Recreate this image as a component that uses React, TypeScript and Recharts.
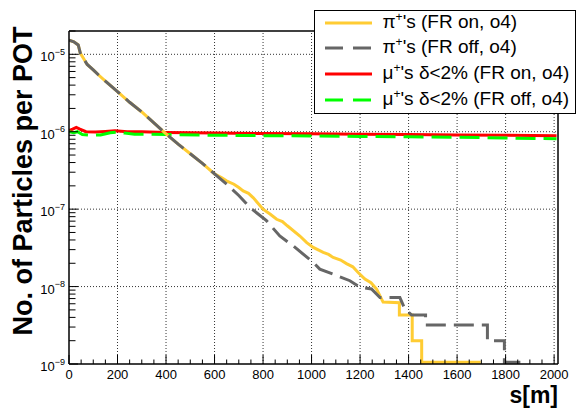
import { LineChart, Line, XAxis, YAxis, ReferenceLine } from "recharts";

const font = '"Liberation Sans", Arial, Helvetica, sans-serif';

// pi+ with field rotation on (yellow)
const piFrOn = [
  { s: 0, v: 1.52e-5 }, { s: 20, v: 1.45e-5 }, { s: 38, v: 1.32e-5 }, { s: 47, v: 1.03e-5 },
  { s: 60, v: 8.8e-6 }, { s: 75, v: 7.4e-6 }, { s: 100, v: 6.3e-6 }, { s: 122, v: 5.4e-6 },
  { s: 150, v: 4.5e-6 }, { s: 200, v: 3.3e-6 }, { s: 250, v: 2.4e-6 }, { s: 300, v: 1.8e-6 },
  { s: 350, v: 1.3e-6 }, { s: 400, v: 9.4e-7 }, { s: 450, v: 6.9e-7 }, { s: 500, v: 5.2e-7 },
  { s: 550, v: 3.9e-7 }, { s: 600, v: 2.85e-7 }, { s: 630, v: 2.55e-7 }, { s: 649, v: 2.32e-7 },
  { s: 680, v: 2.1e-7 }, { s: 700, v: 1.9e-7 }, { s: 718, v: 1.72e-7 }, { s: 740, v: 1.6e-7 },
  { s: 760, v: 1.4e-7 }, { s: 800, v: 1.0e-7 }, { s: 830, v: 8.6e-8 }, { s: 856, v: 7.4e-8 },
  { s: 880, v: 6.9e-8 }, { s: 900, v: 6.1e-8 }, { s: 952, v: 4.5e-8 }, { s: 980, v: 3.7e-8 },
  { s: 1007, v: 3.2e-8 }, { s: 1048, v: 2.76e-8 }, { s: 1070, v: 2.6e-8 }, { s: 1089, v: 2.38e-8 },
  { s: 1120, v: 2.2e-8 }, { s: 1144, v: 1.98e-8 }, { s: 1170, v: 1.8e-8 }, { s: 1192, v: 1.52e-8 },
  { s: 1220, v: 1.25e-8 }, { s: 1245, v: 1.12e-8 }, { s: 1268, v: 9.3e-9 }, { s: 1295, v: 6.3e-9 },
  { s: 1362, v: 6.2e-9 }, { s: 1362, v: 4.3e-9 }, { s: 1415, v: 4.3e-9 }, { s: 1415, v: 2.0e-9 },
  { s: 1454, v: 2.0e-9 }, { s: 1454, v: 1.05e-9 }, { s: 1697, v: 1.05e-9 },
];

// pi+ with field rotation off (grey dashed)
const piFrOff = [
  { s: 0, v: 1.52e-5 }, { s: 20, v: 1.45e-5 }, { s: 38, v: 1.32e-5 }, { s: 47, v: 1.03e-5 },
  { s: 60, v: 8.8e-6 }, { s: 75, v: 7.4e-6 }, { s: 100, v: 6.3e-6 }, { s: 122, v: 5.4e-6 },
  { s: 150, v: 4.5e-6 }, { s: 200, v: 3.3e-6 }, { s: 250, v: 2.4e-6 }, { s: 300, v: 1.8e-6 },
  { s: 350, v: 1.3e-6 }, { s: 400, v: 9.4e-7 }, { s: 450, v: 6.9e-7 }, { s: 500, v: 5.2e-7 },
  { s: 550, v: 3.9e-7 }, { s: 600, v: 2.85e-7 }, { s: 650, v: 2.1e-7 }, { s: 700, v: 1.5e-7 },
  { s: 746, v: 1.05e-7 }, { s: 814, v: 7.1e-8 }, { s: 869, v: 4.5e-8 }, { s: 924, v: 3.36e-8 },
  { s: 1007, v: 2.05e-8 }, { s: 1034, v: 1.68e-8 }, { s: 1089, v: 1.45e-8 }, { s: 1158, v: 1.19e-8 },
  { s: 1199, v: 9.8e-9 }, { s: 1247, v: 9.3e-9 }, { s: 1282, v: 7.2e-9 }, { s: 1364, v: 7.2e-9 },
  { s: 1385, v: 5.1e-9 }, { s: 1412, v: 4.3e-9 }, { s: 1470, v: 4.3e-9 }, { s: 1470, v: 3.2e-9 },
  { s: 1725, v: 3.2e-9 }, { s: 1725, v: 2.0e-9 }, { s: 1795, v: 2.0e-9 }, { s: 1795, v: 1.05e-9 },
  { s: 1893, v: 1.05e-9 },
];

// mu+ delta<2% with field rotation on (red)
const muFrOn = [
  { s: 0, v: 1.03e-6 }, { s: 15, v: 1.08e-6 }, { s: 30, v: 1.14e-6 }, { s: 45, v: 1.08e-6 },
  { s: 70, v: 1.0e-6 }, { s: 110, v: 0.99e-6 }, { s: 150, v: 1.01e-6 }, { s: 190, v: 1.03e-6 },
  { s: 240, v: 1.0e-6 }, { s: 300, v: 1.0e-6 }, { s: 400, v: 0.98e-6 }, { s: 600, v: 0.96e-6 },
  { s: 800, v: 0.95e-6 }, { s: 1000, v: 0.94e-6 }, { s: 1200, v: 0.93e-6 }, { s: 1400, v: 0.92e-6 },
  { s: 1600, v: 0.91e-6 }, { s: 1800, v: 0.9e-6 }, { s: 2010, v: 0.89e-6 },
];

// mu+ delta<2% with field rotation off (green dashed)
const muFrOff = [
  { s: 0, v: 1.0e-6 }, { s: 20, v: 0.97e-6 }, { s: 35, v: 1.0e-6 }, { s: 55, v: 0.92e-6 },
  { s: 90, v: 0.9e-6 }, { s: 130, v: 0.91e-6 }, { s: 170, v: 0.97e-6 }, { s: 200, v: 0.99e-6 },
  { s: 230, v: 0.96e-6 }, { s: 270, v: 0.93e-6 }, { s: 320, v: 0.93e-6 }, { s: 400, v: 0.92e-6 },
  { s: 600, v: 0.9e-6 }, { s: 800, v: 0.89e-6 }, { s: 1000, v: 0.88e-6 }, { s: 1200, v: 0.87e-6 },
  { s: 1400, v: 0.86e-6 }, { s: 1600, v: 0.85e-6 }, { s: 1800, v: 0.83e-6 }, { s: 2010, v: 0.81e-6 },
];

const xMajor = [0, 200, 400, 600, 800, 1000, 1200, 1400, 1600, 1800, 2000];
const xMinorSteps = [50, 100, 150];
const xGrid = [200, 400, 600, 800, 1000, 1200, 1400, 1600, 1800, 2000];
const yDecades = [1e-9, 1e-8, 1e-7, 1e-6, 1e-5];
const yMinorSteps = [2, 3, 4, 5, 6, 7, 8, 9];
const yGrid = [1e-8, 1e-7, 1e-6, 1e-5];

const xTicks = xMajor.flatMap((m) => (m < 2000 ? [m, ...xMinorSteps.map((d) => m + d)] : [m]));
const yTicks = yDecades.flatMap((d) => [d, ...yMinorSteps.map((k) => k * d).filter((v) => v <= 2e-5)]);

const series = [
  { key: "piOn", data: piFrOn, color: "#ffcc33", dash: undefined, sym: "π", rest: "'s (FR on, o4)" },
  { key: "piOff", data: piFrOff, color: "#666666", dash: "20 8", sym: "π", rest: "'s (FR off, o4)" },
  { key: "muOn", data: muFrOn, color: "#ff0000", dash: undefined, sym: "μ", rest: "'s δ<2% (FR on, o4)" },
  { key: "muOff", data: muFrOff, color: "#00ff00", dash: "20 8", sym: "μ", rest: "'s δ<2% (FR off, o4)" },
];
// draw order: muons underneath pions
const drawOrder = ["muOn", "muOff", "piOn", "piOff"];

function XTick(props: any) {
  const { x, y, payload } = props;
  const v = payload.value;
  const major = v % 200 === 0;
  return (
    <g>
      <line x1={x} x2={x} y1={y} y2={y - (major ? 9 : 4.5)} stroke="#000" strokeWidth={1} />
      {major && (
        <text x={x} y={y + 15} textAnchor="middle" fontSize={13} fontFamily={font} fill="#000">
          {v}
        </text>
      )}
    </g>
  );
}

function YTick(props: any) {
  const { x, y, payload } = props;
  const v = payload.value;
  const major = yDecades.some((d) => Math.abs(v / d - 1) < 1e-6);
  const exp = Math.round(Math.log10(v));
  return (
    <g>
      <line x1={x} x2={x + (major ? 9 : 6.5)} y1={y} y2={y} stroke="#000" strokeWidth={1} />
      {major && (
        <text x={x - 4} y={y + 7} textAnchor="end" fontSize={13} fontFamily={font} fill="#000">
          10
          <tspan dy={-6.5} fontSize={9}>
            {"−" + Math.abs(exp)}
          </tspan>
        </text>
      )}
    </g>
  );
}

export default function App() {
  return (
    <div style={{ position: "absolute", left: 0, top: 0, width: 578, height: 409, background: "#fff", fontFamily: font }}>
      <LineChart width={578} height={409} margin={{ top: 31, right: 20, bottom: 0, left: 9 }}>
        <XAxis
          dataKey="s"
          type="number"
          domain={[0, 2016]}
          allowDataOverflow
          ticks={xTicks}
          interval={0}
          tickSize={0}
          tickMargin={0}
          tick={<XTick />}
          height={45}
          axisLine={{ stroke: "#000", strokeWidth: 1.5 }}
          tickLine={false}
        />
        <YAxis
          type="number"
          scale="log"
          domain={[1e-9, 2e-5]}
          allowDataOverflow
          ticks={yTicks}
          interval={0}
          tickSize={0}
          tickMargin={0}
          tick={<YTick />}
          width={60}
          axisLine={{ stroke: "#000", strokeWidth: 1.5 }}
          tickLine={false}
        />
        {xGrid.map((g) => (
          <ReferenceLine key={"gx" + g} x={g} stroke="#333" strokeDasharray="1 2" strokeWidth={1} />
        ))}
        {yGrid.map((g) => (
          <ReferenceLine key={"gy" + g} y={g} stroke="#333" strokeDasharray="1 2" strokeWidth={1} />
        ))}
        <ReferenceLine y={2e-5} stroke="#000" strokeWidth={1.5} />
        <ReferenceLine x={2016} stroke="#000" strokeWidth={1.5} />
        {drawOrder.map((k) => {
          const sr = series.find((q) => q.key === k)!;
          return (
            <Line
              key={sr.key}
              data={sr.data}
              dataKey="v"
              type="linear"
              stroke={sr.color}
              strokeWidth={3}
              strokeDasharray={sr.dash}
              dot={false}
              activeDot={false}
              isAnimationActive={false}
            />
          );
        })}
      </LineChart>

      {/* legend */}
      <div
        style={{
          position: "absolute",
          left: 314,
          top: 10,
          width: 262,
          height: 104,
          border: "1.5px solid #000",
          boxSizing: "border-box",
          background: "#fff",
        }}
      >
        {series.map((sr, i) => (
          <div
            key={sr.key}
            style={{
              position: "absolute",
              left: 0,
              top: 13.3 + 25.6 * i - 13 - 1.5,
              height: 26,
              display: "flex",
              alignItems: "center",
              whiteSpace: "nowrap",
            }}
          >
            <svg width={47} height={6} style={{ marginLeft: 9.5 }}>
              <line x1={0} x2={47} y1={3} y2={3} stroke={sr.color} strokeWidth={3} strokeDasharray={sr.dash ? "18 10" : undefined} />
            </svg>
            <span style={{ marginLeft: 11, fontSize: 19, lineHeight: "26px", color: "#000" }}>
              {sr.sym}
              <span style={{ fontSize: 12, position: "relative", top: -7 }}>+</span>
              {sr.rest}
            </span>
          </div>
        ))}
      </div>

      {/* y axis title */}
      <div
        style={{
          position: "absolute",
          left: 23,
          top: 181,
          transform: "translate(-50%, -50%) rotate(-90deg)",
          fontSize: 27,
          fontWeight: "bold",
          lineHeight: 1,
          whiteSpace: "nowrap",
          color: "#000",
        }}
      >
        No. of Particles per POT
      </div>

      {/* x axis title */}
      <div
        style={{
          position: "absolute",
          right: 20,
          top: 383.5,
          fontSize: 23,
          fontWeight: "bold",
          lineHeight: 1,
          whiteSpace: "nowrap",
          color: "#000",
        }}
      >
        s[m]
      </div>
    </div>
  );
}
